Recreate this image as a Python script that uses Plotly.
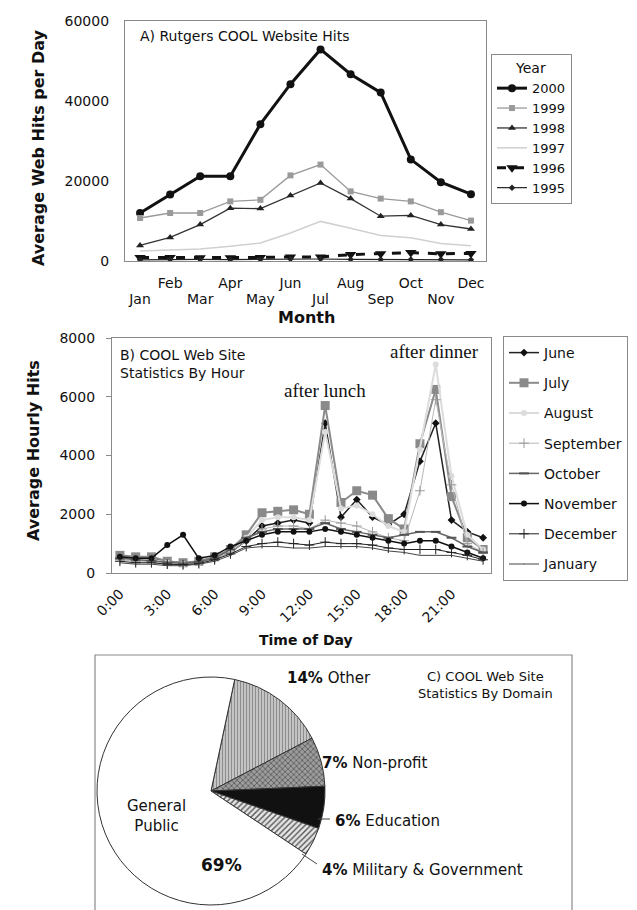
import plotly.graph_objects as go

W, H = 637, 910
def fx(x): return x / W
def fy(y): return 1 - y / H

FONT = "DejaVu Sans"
INK = "#111111"
FRAME = "#8a8a8a"

# ---------------- Panel A data ----------------
MONTHS = ["Jan", "Feb", "Mar", "Apr", "May", "Jun", "Jul", "Aug", "Sep", "Oct", "Nov", "Dec"]
MONTH_IDX = [0, 1, 2, 3, 4, 5, 6, 7, 8, 9, 10, 11]
HITS_2000 = [12000, 16600, 21200, 21200, 34200, 44200, 52900, 46700, 42100, 25400, 19700, 16700]
HITS_1999 = [10750, 12000, 12000, 14900, 15300, 21400, 24100, 17400, 15600, 14900, 12200, 10100]
HITS_1998 = [3900, 5900, 9100, 13200, 13100, 16400, 19500, 15600, 11200, 11400, 9100, 8000]
HITS_1997 = [2500, 2800, 3000, 3700, 4500, 7000, 9900, 8200, 6400, 5800, 4400, 3800]
HITS_1996 = [900, 900, 800, 800, 900, 1000, 1000, 1600, 1800, 2100, 1800, 1900]
HITS_1995 = [300, 400, 400, 350, 400, 500, 500, 400, 350, 400, 400, 300]
A_TICKS = [0, 20000, 40000, 60000]

# ---------------- Panel B data ----------------
HOURS = ["0:00", "1:00", "2:00", "3:00", "4:00", "5:00", "6:00", "7:00", "8:00", "9:00",
         "10:00", "11:00", "12:00", "13:00", "14:00", "15:00", "16:00", "17:00", "18:00",
         "19:00", "20:00", "21:00", "22:00", "23:00"]
HOUR_TICKS = ["0:00", "3:00", "6:00", "9:00", "12:00", "15:00", "18:00", "21:00"]
JUNE = [550, 500, 520, 400, 350, 380, 500, 700, 1100, 1600, 1700, 1800, 1700, 5100, 1900, 2500, 1900, 1650, 2000, 3800, 5100, 1800, 1400, 1200]
JULY = [600, 550, 550, 400, 350, 400, 550, 800, 1300, 2050, 2100, 2150, 2000, 5700, 2400, 2800, 2650, 1850, 1500, 4400, 6250, 2600, 1200, 800]
AUGUST = [500, 450, 450, 350, 300, 350, 500, 750, 1200, 1800, 1900, 1900, 1800, 4800, 2200, 2300, 2000, 1600, 1400, 4200, 7100, 3300, 1300, 800]
SEPTEMBER = [450, 400, 400, 320, 300, 350, 480, 700, 1100, 1500, 1600, 1600, 1500, 1800, 1700, 1600, 1400, 1200, 1100, 2800, 5900, 3000, 1000, 700]
OCTOBER = [500, 450, 420, 350, 320, 380, 500, 800, 1200, 1400, 1500, 1500, 1500, 1700, 1500, 1400, 1300, 1200, 1300, 1400, 1400, 1200, 900, 700]
NOVEMBER = [550, 500, 500, 950, 1300, 500, 600, 900, 1100, 1300, 1400, 1400, 1400, 1500, 1400, 1300, 1200, 1100, 1000, 1100, 1100, 900, 700, 500]
DECEMBER = [400, 350, 350, 300, 280, 320, 450, 650, 900, 1000, 1050, 1000, 950, 1050, 1000, 1000, 950, 850, 800, 800, 800, 700, 600, 450]
JANUARY = [350, 300, 300, 250, 250, 300, 400, 600, 850, 900, 900, 850, 850, 900, 900, 900, 850, 750, 700, 600, 600, 600, 500, 400]
B_TICKS = [0, 2000, 4000, 6000, 8000]

# ---------------- Panel C data ----------------
DOMAINS = ["Other", "Non-profit", "Education", "Military & Government", "General Public"]
DOMAIN_PCT = [14, 7, 6, 4, 69]

fig = go.Figure()

# ---- Panel A traces
a_styles = [
    ("2000", HITS_2000, dict(color="#111", width=3), dict(symbol="circle", size=8, color="#111")),
    ("1999", HITS_1999, dict(color="#9a9a9a", width=1.3), dict(symbol="square", size=6, color="#9a9a9a")),
    ("1998", HITS_1998, dict(color="#333", width=1.3), dict(symbol="triangle-up", size=7, color="#222")),
    ("1997", HITS_1997, dict(color="#d0d0d0", width=1.5), dict(size=1, color="#d0d0d0", opacity=0)),
    ("1996", HITS_1996, dict(color="#111", width=3, dash="dash"), dict(symbol="triangle-down", size=10, color="#111")),
    ("1995", HITS_1995, dict(color="#222", width=1.2), dict(symbol="diamond", size=5, color="#222")),
]
for name, vals, line, marker in a_styles:
    fig.add_trace(go.Scatter(x=MONTH_IDX, y=vals, name=name, mode="lines+markers",
                             line=line, marker=marker, xaxis="x", yaxis="y", legend="legend"))
# invisible carrier so the second (staggered) month-label axis is drawn
fig.add_trace(go.Scatter(x=MONTH_IDX, y=HITS_2000, mode="markers", marker=dict(opacity=0),
                         showlegend=False, hoverinfo="skip", xaxis="x2", yaxis="y"))

# ---- Panel B traces
b_styles = [
    ("June", JUNE, dict(color="#222", width=1.5), dict(symbol="diamond", size=6, color="#111")),
    ("July", JULY, dict(color="#8a8a8a", width=2), dict(symbol="square", size=9, color="#8a8a8a")),
    ("August", AUGUST, dict(color="#dcdcdc", width=2), dict(symbol="circle", size=6, color="#dcdcdc")),
    ("September", SEPTEMBER, dict(color="#b8b8b8", width=1), dict(symbol="cross-thin", size=7, line=dict(color="#999", width=1))),
    ("October", OCTOBER, dict(color="#666", width=1.5), dict(symbol="line-ew", size=7, line=dict(color="#555", width=2))),
    ("November", NOVEMBER, dict(color="#111", width=1.5), dict(symbol="circle", size=6, color="#111")),
    ("December", DECEMBER, dict(color="#222", width=1), dict(symbol="cross-thin", size=7, line=dict(color="#222", width=1))),
    ("January", JANUARY, dict(color="#444", width=1), dict(size=1, opacity=0)),
]
for i, (name, vals, line, marker) in enumerate(b_styles):
    fig.add_trace(go.Scatter(x=HOURS, y=vals, name=name, mode="lines+markers",
                             line=line, marker=marker, xaxis="x3", yaxis="y3",
                             legend="legend2", legendgroup="b%d" % i))

# ---- Panel C pie
fig.add_trace(go.Pie(
    labels=DOMAINS, values=DOMAIN_PCT, sort=False, direction="clockwise", rotation=12,
    textinfo="none", hoverinfo="label+percent", showlegend=False,
    marker=dict(colors=["#c4c4c4", "#9c9c9c", "#111111", "#e6e6e6", "#ffffff"],
                line=dict(color="#333", width=1),
                pattern=dict(shape=["|", "x", "", "/", ""],
                             bgcolor=["#c4c4c4", "#9c9c9c", "#111111", "#e6e6e6", "#ffffff"],
                             fgcolor=["#8c8c8c", "#555555", "#111111", "#555555", "#ffffff"],
                             size=[3, 4, 4, 4, 4], solidity=[0.35, 0.35, 0.2, 0.35, 0.1])),
    domain=dict(x=[fx(89), fx(317)], y=[fy(897), fy(669)]),
))

axis_common = dict(showgrid=False, zeroline=False, showline=True, mirror=True,
                   linecolor=FRAME, linewidth=1.2, automargin=False,
                   tickfont=dict(family=FONT, size=14, color=INK))

fig.update_layout(
    template="none",
    width=W, height=H, margin=dict(l=0, r=0, t=0, b=0, pad=0),
    paper_bgcolor="white", plot_bgcolor="white",
    font=dict(family=FONT, color=INK),
    xaxis=dict(domain=[fx(117), fx(478)], anchor="y", range=[-0.5, 11.5],
               tickvals=MONTH_IDX[0::2], ticktext=MONTHS[0::2], ticks="",
               ticklabelstandoff=25, **axis_common),
    xaxis2=dict(domain=[fx(117), fx(478)], anchor="y", overlaying="x", range=[-0.5, 11.5],
                tickvals=MONTH_IDX[1::2], ticktext=MONTHS[1::2], ticks="", side="bottom",
                ticklabelstandoff=12, showgrid=False, zeroline=False, showline=False,
                automargin=False, tickfont=dict(family=FONT, size=14, color=INK)),
    yaxis=dict(domain=[fy(253), fy(13)], anchor="x", range=[0, 60000], tickvals=A_TICKS,
               tickformat="d", ticks="", ticklabelstandoff=12, **axis_common),
    xaxis3=dict(domain=[fx(104), fx(483)], anchor="y3", type="category",
                categoryorder="array", categoryarray=HOURS, range=[-0.5, 23.5],
                tickvals=HOUR_TICKS, tickangle=-45, ticks="", ticklabelstandoff=6,
                **axis_common),
    yaxis3=dict(domain=[fy(565), fy(330)], anchor="x3", range=[0, 8000], tickvals=B_TICKS,
                tickformat="d", ticks="outside", ticklen=5, tickcolor=FRAME,
                ticklabelstandoff=8, **axis_common),
    legend=dict(x=fx(483), y=fy(46), xanchor="left", yanchor="top",
                bordercolor=FRAME, borderwidth=1, bgcolor="white",
                font=dict(family=FONT, size=13, color=INK),
                title=dict(text="Year", side="top center", font=dict(family=FONT, size=14)),
                itemwidth=30, tracegroupgap=0),
    legend2=dict(x=fx(495), y=fy(328), xanchor="left", yanchor="top",
                 bordercolor=FRAME, borderwidth=1, bgcolor="white",
                 font=dict(family=FONT, size=14, color=INK),
                 itemwidth=30, tracegroupgap=9),
)

ann = []
def add(text, x, y, size=14, xanchor="center", yanchor="middle", angle=0, family=FONT, align="center"):
    ann.append(dict(text=text, x=fx(x), y=fy(y), xref="paper", yref="paper", showarrow=False,
                    xanchor=xanchor, yanchor=yanchor, textangle=angle, align=align,
                    font=dict(family=family, size=size, color=INK)))

# Panel A texts
add("A) Rutgers COOL Website Hits", 130, 28, size=14, xanchor="left")
add("<b>Average Web Hits per Day</b>", 30, 140, size=16, angle=-90)
add("<b>Month</b>", 298, 309, size=16)
# Panel B texts
add("B) COOL Web Site<br>Statistics By Hour", 110, 356, size=14, xanchor="left", align="left")
add("after lunch", 317, 382, size=19, family="Liberation Serif")
add("after dinner", 426, 343, size=19, family="Liberation Serif")
add("<b>Average Hourly Hits</b>", 25, 443, size=16, angle=-90)
add("<b>Time of Day</b>", 298, 632, size=14)
# Panel C texts
add("<b>14%</b> Other", 277, 670, size=15, xanchor="left")
add("<b>7%</b> Non-profit", 312, 755, size=15, xanchor="left")
add("<b>6%</b> Education", 325, 813, size=15, xanchor="left")
add("<b>4%</b> Military & Government", 312, 862, size=15, xanchor="left")
add("General<br>Public", 148, 808, size=15)
add("<b>69%</b>", 213, 857, size=17)
add("C) COOL Web Site<br>Statistics By Domain", 477, 677, size=13)
fig.update_layout(annotations=ann)

fig.update_layout(shapes=[
    dict(type="rect", xref="paper", yref="paper", x0=fx(87), x1=fx(564), y0=fy(907), y1=fy(647),
         line=dict(color=FRAME, width=1.2), fillcolor="rgba(0,0,0,0)"),
    dict(type="line", xref="paper", yref="paper", x0=fx(310), x1=fx(322), y0=fy(811), y1=fy(811),
         line=dict(color="#444", width=1)),
    dict(type="line", xref="paper", yref="paper", x0=fx(294), x1=fx(309), y0=fy(846), y1=fy(856),
         line=dict(color="#444", width=1)),
])

fig.write_html("out.html")
